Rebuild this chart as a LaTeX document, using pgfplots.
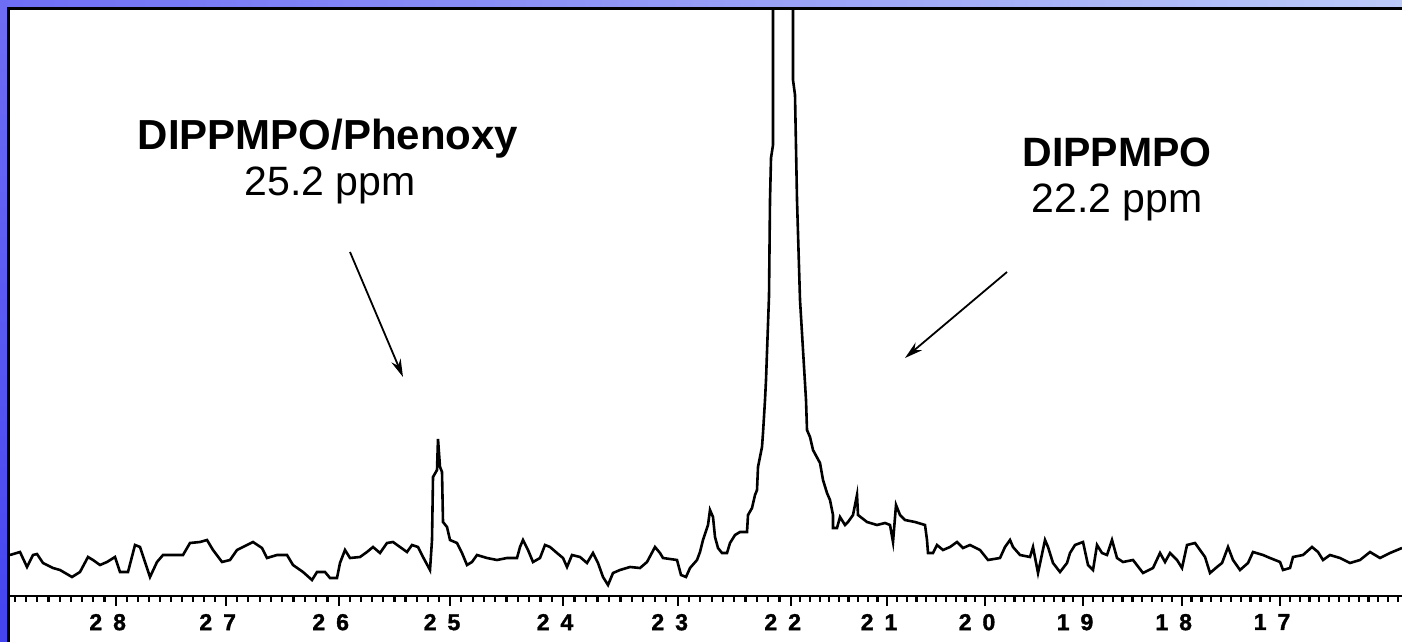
\documentclass[border=0pt]{standalone}
\usepackage{pgfplots}
\pgfplotsset{compat=1.18}
\usepackage{fontspec}
\setmainfont{Liberation Sans}
\newfontfamily\tickfont[BoldFeatures={FakeBold=1.5}]{Liberation Sans}
\usetikzlibrary{arrows.meta}
\definecolor{bandL}{RGB}{110,110,245}
\definecolor{bandR}{RGB}{188,202,248}
\definecolor{barB}{RGB}{68,68,240}
\begin{document}
\begin{tikzpicture}
\useasboundingbox (0,0) rectangle (701pt,321pt);
\fill[white] (0,0) rectangle (701pt,321pt);
\shade[top color=bandL, bottom color=barB] (0,0) rectangle (4.4pt,321pt);
\shade[left color=bandL, right color=bandR] (0,316.6pt) rectangle (701pt,321pt);
\draw[black, line width=1.35pt] (4.35pt,0) -- (4.35pt,316.65pt) -- (701pt,316.65pt);
\begin{axis}[
  at={(5pt,23pt)}, anchor=south west,
  scale only axis, width=696pt, height=293.5pt,
  xmin=10, xmax=1402, ymin=0, ymax=587,
  axis x line*=bottom, axis y line=none,
  ytick=\empty,
  tick align=outside,
  major tick length=5pt, minor tick length=2.8pt,
  tick style={black, line width=1.1pt},
  axis line style={black, line width=0.7pt},
  xtick={115.7,225.7,338.7,450,563,677.7,790.7,887,985,1083,1181.7,1280},
  xticklabels={2\hspace{5.5pt}8,2\hspace{5.5pt}7,2\hspace{5.5pt}6,2\hspace{5.5pt}5,2\hspace{5.5pt}4,2\hspace{5.5pt}3,2\hspace{5.5pt}2,2\hspace{5.5pt}1,2\hspace{5.5pt}0,1\hspace{5.5pt}9,1\hspace{5.5pt}8,1\hspace{5.5pt}7},
  minor xtick={14.9,26.1,37.3,48.5,59.7,70.9,82.1,93.3,104.5,
    126.7,137.7,148.7,159.7,170.7,181.7,192.7,203.7,214.7,
    237,248.3,259.6,270.9,282.2,293.5,304.8,316.1,327.4,
    349.8,361,372.1,383.2,394.4,405.5,416.6,427.7,438.9,
    461.3,472.6,483.9,495.2,506.5,517.8,529.1,540.4,551.7,
    574.5,585.9,597.4,608.9,620.4,631.8,643.3,654.8,666.2,
    689,700.3,711.6,722.9,734.2,745.5,756.8,768.1,779.4,
    800.3,810,819.6,829.2,838.9,848.5,858.1,867.7,877.4,
    896.8,906.6,916.4,926.2,936,945.8,955.6,965.4,975.2,
    994.8,1004.6,1014.4,1024.2,1034,1043.8,1053.6,1063.4,1073.2,
    1092.9,1102.7,1112.6,1122.5,1132.4,1142.2,1152.1,1162,1171.8,
    1191.5,1201.4,1211.2,1221,1230.9,1240.7,1250.5,1260.4,1270.2,
    1289.8,1299.7,1309.5,1319.3,1329.2,1339,1348.8,1358.6,1368.5,1378.3,1388.1,1397.9},
  xticklabel style={font=\fontsize{11.5}{11.5}\selectfont\tickfont\bfseries, xshift=-4pt, yshift=-0.5pt},
]
\addplot[black, line width=1.3pt, mark=none] table {
10 41
20 44
27 29
33 41
37 42
43 33
53 28
60 26
72 19
80 24
88 39
93 36
100 31
107 34
115 39
120 24
128 24
135 51
140 49
150 19
157 34
163 41
173 41
183 41
190 53
200 54
207 56
213 46
222 34
230 36
237 46
247 51
253 54
262 48
267 38
277 41
287 41
293 31
303 24
312 16
317 24
325 24
330 18
337 18
340 33
345 46
350 38
360 39
367 44
373 49
380 43
387 53
393 54
400 49
407 44
412 51
418 49
423 39
430 26
432 56
433 119
437 126
438 157
440 129
442 124
443 74
447 69
450 56
457 53
462 43
467 31
472 34
477 41
487 38
497 36
507 38
517 38
520 49
523 56
528 46
533 34
540 38
545 51
550 49
557 43
563 38
567 29
572 41
580 39
587 33
593 43
598 33
603 19
608 11
613 23
620 26
630 29
640 28
647 34
655 49
660 43
663 38
677 36
681 21
686 19
690 28
697 36
700 44
703 56
708 71
710 86
713 79
715 59
718 48
722 43
727 43
730 53
735 61
740 64
747 64
748 81
752 88
755 101
757 106
758 129
762 149
763 163
765 196
766 216
769 300
770 396
771 438
773 451
773 700
793 700
793 516
795 501
797 396
800 296
806 196
807 166
810 159
813 146
820 133
823 116
827 103
830 96
833 81
833 68
837 68
840 79
845 71
848 74
853 81
857 101
858 81
867 74
877 71
885 73
890 71
893 54
896 91
900 81
905 76
915 74
925 71
927 56
928 43
933 43
937 51
943 46
950 49
957 54
963 48
970 51
980 46
988 36
1000 38
1005 49
1010 56
1013 49
1020 41
1030 39
1033 49
1038 23
1045 56
1048 49
1053 33
1060 24
1067 33
1070 43
1075 51
1083 54
1088 31
1093 26
1097 51
1102 43
1107 41
1112 56
1117 38
1123 34
1133 36
1143 23
1153 28
1160 43
1165 34
1170 43
1177 36
1182 28
1187 51
1195 53
1200 46
1205 39
1210 23
1217 29
1222 33
1228 49
1233 36
1240 26
1248 33
1253 44
1263 41
1270 38
1280 34
1283 26
1290 28
1293 39
1303 41
1312 49
1318 44
1323 36
1330 41
1340 38
1350 33
1360 36
1370 44
1380 38
1390 43
1402 48
};
\node[anchor=base, font=\fontsize{21}{24}\selectfont\bfseries] at (axis cs:328,446) {DIPPMPO/Phenoxy};
\node[anchor=base, font=\fontsize{20.5}{24}\selectfont] at (axis cs:330,400) {25.2 ppm};
\node[anchor=base, font=\fontsize{20.5}{24}\selectfont\bfseries] at (axis cs:1117,429) {DIPPMPO};
\node[anchor=base, font=\fontsize{20.5}{24}\selectfont] at (axis cs:1117,383) {22.2 ppm};
\draw[-{Stealth[length=9pt,width=5pt]}, line width=0.9pt] (axis cs:350,344) -- (axis cs:403,219);
\draw[-{Stealth[length=9pt,width=5pt]}, line width=0.9pt] (axis cs:1007,324) -- (axis cs:905,238);
\end{axis}
\end{tikzpicture}
\end{document}
